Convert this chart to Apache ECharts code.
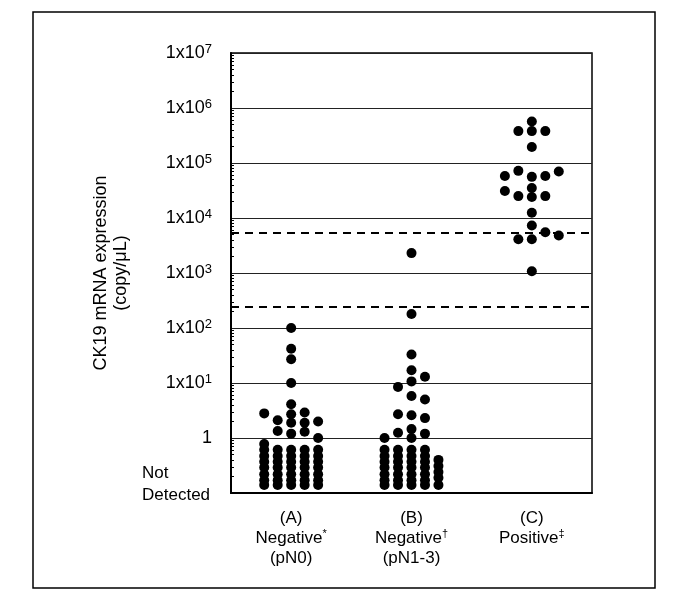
<!DOCTYPE html>
<html>
<head>
<meta charset="utf-8">
<script src="https://cdn.jsdelivr.net/npm/echarts@6/dist/echarts.min.js"></script>
<style>
  html, body { margin: 0; padding: 0; background: #fff; }
  #chart { width: 676px; height: 600px; }
</style>
</head>
<body>
<div id="chart"></div>
<script>
// groups on the x axis
var groupNames = ['(A)', '(B)', '(C)'];
var groupStatus = ['Negative', 'Negative', 'Positive'];
var groupMarks = ['*', '\u2020', '\u2021'];
var groupStage = ['(pN0)', '(pN1-3)', ''];

// copies/uL, one list per dot column (left to right)
var aDetected = [[2.8], [2.1, 1.34], [100, 42, 27, 10, 4.1, 2.7, 1.9, 1.2], [2.9, 1.9, 1.3], [2.0, 1.0]];
var aNotDetected = [
  [0.78, 0.61, 0.47, 0.37, 0.29, 0.22, 0.17, 0.14],
  [0.61, 0.47, 0.37, 0.29, 0.22, 0.17, 0.14],
  [0.61, 0.47, 0.37, 0.29, 0.22, 0.17, 0.14],
  [0.61, 0.47, 0.37, 0.29, 0.22, 0.17, 0.14],
  [0.61, 0.47, 0.37, 0.29, 0.22, 0.17, 0.14]
];
var bDetected = [[1.0], [8.5, 2.7, 1.25], [2300, 180, 33, 17, 10.7, 5.8, 2.6, 1.45, 1.0], [13, 5.0, 2.3, 1.2], []];
var bNotDetected = [
  [0.61, 0.47, 0.37, 0.29, 0.22, 0.17, 0.14],
  [0.61, 0.47, 0.37, 0.29, 0.22, 0.17, 0.14],
  [0.61, 0.47, 0.37, 0.29, 0.22, 0.17, 0.14],
  [0.61, 0.47, 0.37, 0.29, 0.22, 0.17, 0.14],
  [0.40, 0.31, 0.24, 0.19, 0.14]
];
var cDetected = [
  [58000, 31000],
  [380000, 72000, 25000, 4100],
  [570000, 380000, 195000, 56000, 35000, 24000, 12500, 7300, 4100, 1080],
  [380000, 58000, 25000, 5500],
  [70000, 4800]
];
var cNotDetected = [[], [], [], [], []];

// cut-off levels (dashed)
var cutoffs = [5500, 240];

var groups = [
  aDetected.map(function (c, i) { return c.concat(aNotDetected[i]); }),
  bDetected.map(function (c, i) { return c.concat(bNotDetected[i]); }),
  cDetected.map(function (c, i) { return c.concat(cNotDetected[i]); })
];

var colStep = 0.112;
var points = [];
groups.forEach(function (cols, g) {
  cols.forEach(function (vals, ci) {
    vals.forEach(function (v) {
      points.push([g + 0.5 + (ci - 2) * colStep, v]);
    });
  });
});

function yLabel(v) {
  var e = Math.round(Math.log10(v));
  if (e < 0) return '{nd|Not}\n{nd|Detected}\n{pad| }';
  if (e === 0) return '1';
  return '1x10{sup|' + e + '}';
}

var chart = echarts.init(document.getElementById('chart'));
var option = {
  backgroundColor: '#fff',
  animation: false,
  textStyle: { fontFamily: 'Liberation Sans', color: '#000' },
  graphic: [{
    type: 'rect',
    shape: { x: 33, y: 12, width: 622, height: 576 },
    style: { fill: 'none', stroke: '#000', lineWidth: 1.5 },
    silent: true
  }],
  grid: {
    left: 231, right: 84, top: 53, bottom: 107,
    show: true, borderColor: '#000', borderWidth: 1.5
  },
  xAxis: [{
    type: 'category',
    data: groupNames,
    boundaryGap: true,
    axisLine: { lineStyle: { color: '#000', width: 2 } },
    axisTick: { show: false },
    axisLabel: {
      interval: 0,
      hideOverlap: false,
      margin: 15,
      fontSize: 17,
      lineHeight: 20,
      color: '#000',
      fontFamily: 'Liberation Sans',
      formatter: function (v, i) {
        var s = v + '\n' + groupStatus[i] + '{s|' + groupMarks[i] + '}';
        if (groupStage[i]) s += '\n' + groupStage[i];
        return s;
      },
      rich: {
        s: { fontSize: 11, lineHeight: 12, verticalAlign: 'top', fontFamily: 'Liberation Sans', color: '#000' }
      }
    }
  }, {
    type: 'value',
    min: 0, max: 3,
    show: false
  }],
  yAxis: {
    type: 'log',
    logBase: 10,
    min: 0.1,
    max: 10000000,
    splitNumber: 8,
    name: 'CK19 mRNA expression\n(copy/\u03bcL)',
    nameLocation: 'middle',
    nameRotate: 90,
    nameGap: 93,
    nameTextStyle: { fontSize: 18, lineHeight: 20, color: '#000', fontFamily: 'Liberation Sans' },
    axisLine: { show: true, lineStyle: { color: '#000', width: 2 } },
    axisTick: { show: false, inside: true },
    minorTick: { show: true, splitNumber: 9, length: 3, lineStyle: { color: '#000' } },
    splitLine: { show: true, lineStyle: { color: '#222', width: 1 } },
    axisLabel: {
      margin: 19,
      fontSize: 18,
      lineHeight: 20,
      color: '#000',
      fontFamily: 'Liberation Sans',
      showMinLabel: true,
      showMaxLabel: true,
      hideOverlap: false,
      formatter: yLabel,
      rich: {
        sup: { fontSize: 13, lineHeight: 13, verticalAlign: 'top', color: '#000', fontFamily: 'Liberation Sans' },
        nd: { fontSize: 17, lineHeight: 22, width: 70, align: 'left', color: '#000', fontFamily: 'Liberation Sans' },
        pad: { fontSize: 17, lineHeight: 18 }
      }
    }
  },
  series: [{
    type: 'scatter',
    xAxisIndex: 1,
    symbol: 'circle',
    symbolSize: 10,
    itemStyle: { color: '#000', opacity: 1 },
    data: points,
    markLine: {
      silent: true,
      symbol: 'none',
      label: { show: false },
      lineStyle: { color: '#000', width: 2, type: [8, 6] },
      data: cutoffs.map(function (c) { return { yAxis: c }; })
    }
  }]
};
chart.setOption(option);
</script>
</body>
</html>
